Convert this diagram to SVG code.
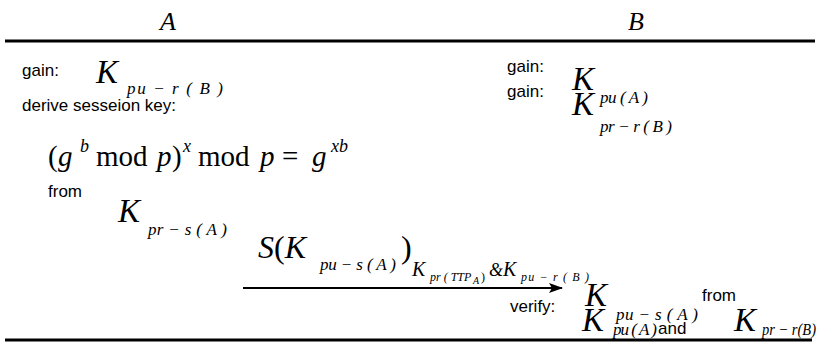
<svg xmlns="http://www.w3.org/2000/svg" width="820" height="345" viewBox="0 0 820 345">
<defs>
<style>
.lbl{font-family:"Liberation Sans",Arial,sans-serif;font-size:17px;fill:#000}
.m{font-family:"Liberation Serif","Times New Roman",serif;fill:#000}
.i{font-style:italic}
.K{font-size:33px;font-style:italic}
.s{font-size:17px;font-style:italic}
.hd{font-family:"Liberation Serif","Times New Roman",serif;font-style:italic;font-size:26px;fill:#000}
</style>
<marker id="ah" viewBox="0 0 14 10" refX="13" refY="5" markerWidth="14" markerHeight="10" markerUnits="userSpaceOnUse" orient="auto">
<path d="M0,0 L14,5 L0,10 L3,5 Z" fill="#000"/>
</marker>
</defs>
<rect width="820" height="345" fill="#fff"/>
<g id="header">
<text class="hd" x="168" y="30" text-anchor="middle">A</text>
<text class="hd" x="636" y="30" text-anchor="middle">B</text>
</g>
<g id="connectors">
<line x1="5" y1="41" x2="815" y2="41" stroke="#000" stroke-width="3"/>
<line x1="5" y1="340" x2="812" y2="340" stroke="#000" stroke-width="3"/>
<line x1="243" y1="288" x2="562" y2="288" stroke="#000" stroke-width="2" marker-end="url(#ah)"/>
</g>
<g id="nodeA">
<text class="lbl" x="22" y="76">gain:</text>
<text class="m K" x="96" y="83">K</text>
<text class="m s" x="127" y="94" textLength="96" lengthAdjust="spacing">pu − r ( B )</text>
<text class="lbl" x="22" y="111">derive sesseion key:</text>
<g id="formula" class="m" font-size="29">
<text x="48" y="166">(</text>
<text class="i" x="58" y="166">g</text>
<text class="i" x="80" y="152" font-size="18">b</text>
<text x="96" y="166">mod</text>
<text class="i" x="157" y="166">p</text>
<text x="172" y="166">)</text>
<text class="i" x="183" y="152" font-size="18">x</text>
<text x="198" y="166">mod</text>
<text class="i" x="260" y="166">p</text>
<text x="282" y="166">=</text>
<text class="i" x="312" y="166">g</text>
<text class="i" x="331" y="152" font-size="18">xb</text>
</g>
<text class="lbl" x="48" y="197">from</text>
<text class="m K" x="118" y="222">K</text>
<text class="m s" x="148" y="235" textLength="79" lengthAdjust="spacing">pr − s ( A )</text>
</g>
<g id="message">
<text class="m" x="258" y="258" font-size="32"><tspan font-style="italic">S</tspan>(<tspan font-style="italic">K</tspan></text>
<text class="m s" x="320" y="270" textLength="76" lengthAdjust="spacing">pu − s ( A )</text>
<text class="m" x="401" y="258" font-size="32">)</text>
<text class="m i" x="412" y="276" font-size="20">K</text>
<text class="m i" x="430" y="281" font-size="12">pr ( TTP</text>
<text class="m i" x="473" y="284" font-size="10">A</text>
<text class="m" x="481" y="281" font-size="12">)</text>
<text class="m i" x="489" y="276" font-size="18">&amp;</text>
<text class="m i" x="503" y="276" font-size="20">K</text>
<text class="m i" x="521" y="281" font-size="12" textLength="68" lengthAdjust="spacing">pu − r ( B )</text>
</g>
<g id="nodeB">
<text class="lbl" x="507" y="72">gain:</text>
<text class="m K" x="572" y="90">K</text>
<text class="m s" x="600" y="103" textLength="48" lengthAdjust="spacing">pu ( A )</text>
<text class="lbl" x="507" y="97">gain:</text>
<text class="m K" x="572" y="115">K</text>
<text class="m s" x="600" y="132" textLength="72" lengthAdjust="spacing">pr − r ( B )</text>
<text class="lbl" x="510" y="312">verify:</text>
<text class="m K" x="585" y="306">K</text>
<text class="m s" x="616" y="320" textLength="82" lengthAdjust="spacing">pu − s ( A )</text>
<text class="lbl" x="702" y="301">from</text>
<text class="m K" x="582" y="331">K</text>
<text class="m s" x="613" y="335" font-size="16" textLength="44" lengthAdjust="spacing">pu ( A )</text>
<text class="lbl" x="658" y="334">and</text>
<text class="m K" x="734" y="331">K</text>
<text class="m s" x="762" y="335" font-size="14" textLength="54" lengthAdjust="spacingAndGlyphs">pr − r(B)</text>
</g>
</svg>
